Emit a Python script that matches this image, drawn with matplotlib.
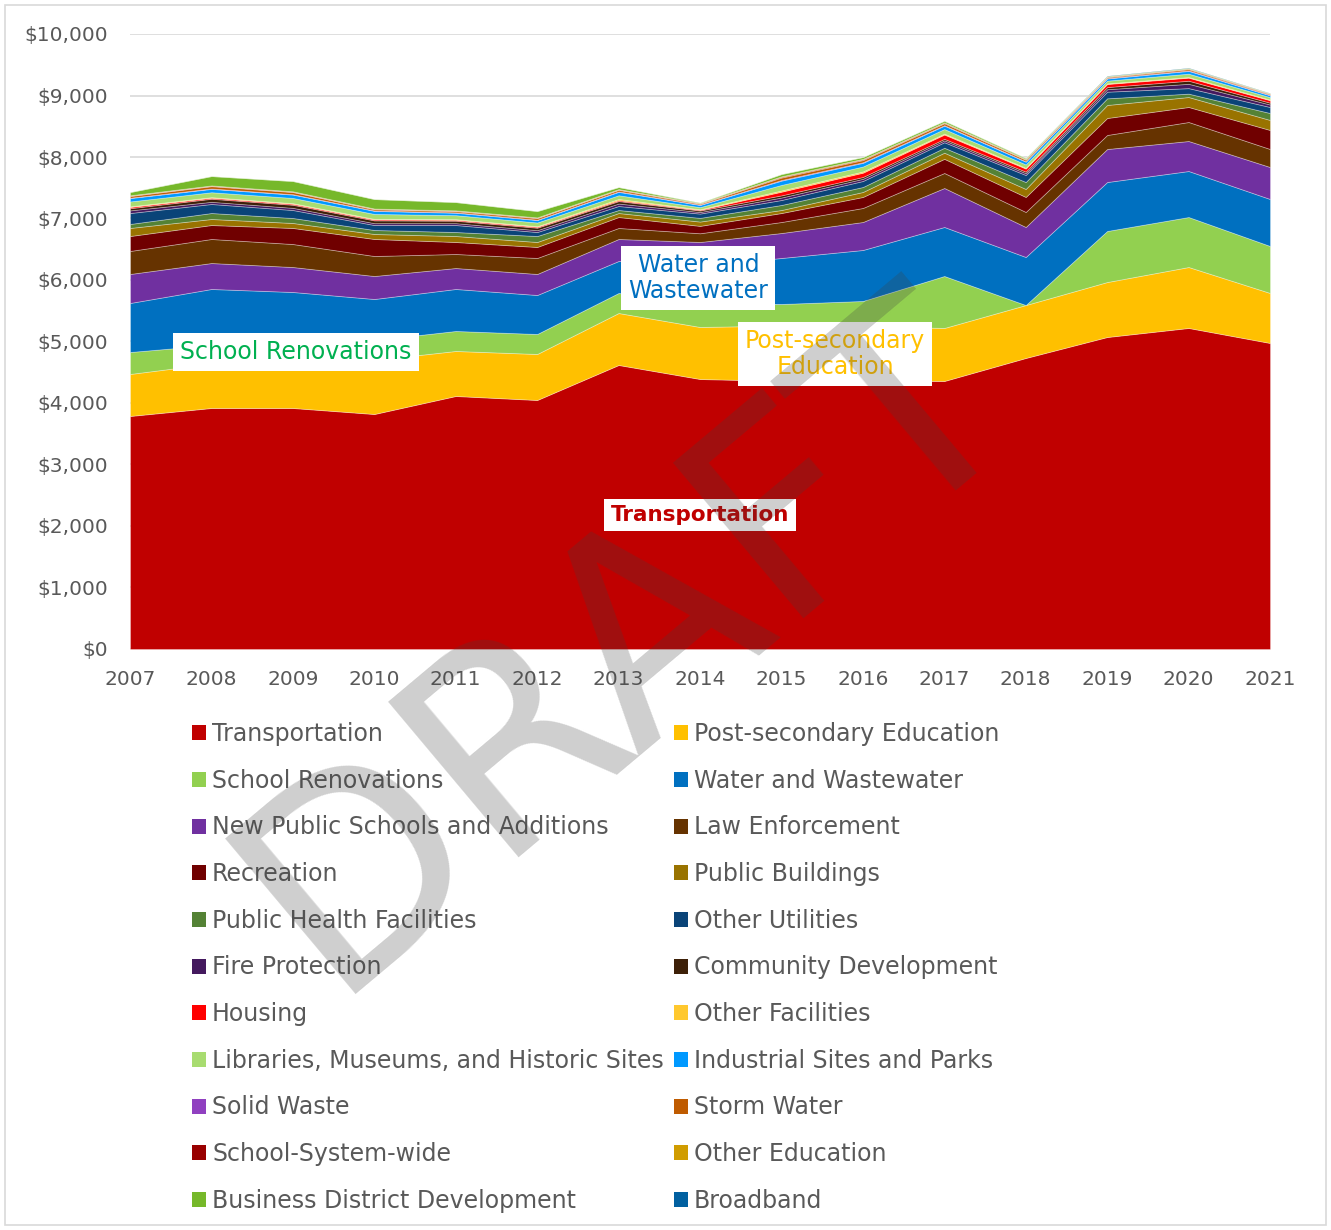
import numpy as np
import matplotlib.pyplot as plt
from matplotlib.patches import Patch, Rectangle

# data ($ millions), stacked bottom -> top
years = list(range(2007, 2022))

transportation = [3789, 3919, 3919, 3821, 4114, 4049, 4618, 4390, 4360, 4370, 4358, 4732, 5073, 5220, 4976]
post_secondary = [683, 721, 721, 879, 732, 748, 845, 846, 900, 880, 862, 861, 894, 991, 813]
school_renov = [357, 303, 336, 324, 325, 325, 326, 390, 350, 409, 845, 0, 830, 813, 764]
water = [797, 911, 829, 667, 683, 634, 520, 602, 748, 829, 797, 781, 796, 748, 764]
new_schools = [472, 422, 406, 374, 341, 342, 358, 390, 406, 455, 634, 488, 537, 488, 520]
law_enf = [374, 391, 374, 325, 228, 260, 179, 142, 179, 228, 244, 244, 228, 309, 293]
recreation = [243, 227, 261, 277, 195, 179, 178, 120, 146, 179, 230, 244, 276, 244, 309]
public_bldg = [131, 98, 81, 81, 97, 81, 65, 70, 49, 81, 100, 130, 212, 162, 163]
public_health = [65, 97, 81, 65, 65, 97, 49, 60, 82, 81, 80, 113, 108, 55, 113]
other_util = [178, 147, 130, 81, 114, 65, 65, 70, 81, 98, 90, 114, 108, 90, 98]
fire = [43, 35, 35, 30, 30, 30, 40, 25, 40, 35, 30, 30, 40, 70, 40]
community = [35, 50, 50, 45, 40, 40, 40, 25, 35, 30, 25, 25, 35, 50, 30]
housing = [20, 16, 16, 15, 15, 15, 15, 10, 60, 70, 70, 50, 50, 50, 40]
other_fac = [10, 10, 10, 10, 10, 10, 20, 10, 20, 20, 15, 12, 10, 10, 10]
libraries = [80, 80, 85, 80, 65, 60, 60, 35, 90, 80, 75, 55, 45, 55, 40]
industrial = [55, 55, 55, 50, 40, 40, 55, 35, 70, 60, 55, 45, 35, 45, 30]
solid_waste = [6, 6, 6, 6, 6, 6, 8, 5, 10, 10, 8, 6, 6, 8, 6]
storm_water = [27, 38, 35, 20, 20, 25, 25, 15, 40, 35, 30, 25, 15, 20, 12]
school_sys = [6, 6, 6, 6, 6, 6, 6, 5, 10, 10, 8, 6, 6, 6, 6]
other_edu = [6, 6, 6, 6, 6, 6, 6, 5, 10, 10, 8, 6, 6, 6, 6]
business = [54, 153, 168, 155, 136, 104, 34, 10, 38, 30, 26, 17, 8, 8, 6]
broadband = [0, 0, 0, 0, 0, 0, 0, 0, 0, 0, 0, 0, 4, 4, 2]

labels = ["Transportation", "Post-secondary Education", "School Renovations",
          "Water and Wastewater", "New Public Schools and Additions", "Law Enforcement",
          "Recreation", "Public Buildings", "Public Health Facilities", "Other Utilities",
          "Fire Protection", "Community Development", "Housing", "Other Facilities",
          "Libraries, Museums, and Historic Sites", "Industrial Sites and Parks",
          "Solid Waste", "Storm Water", "School-System-wide", "Other Education",
          "Business District Development", "Broadband"]
series = [transportation, post_secondary, school_renov, water, new_schools, law_enf,
          recreation, public_bldg, public_health, other_util, fire, community, housing,
          other_fac, libraries, industrial, solid_waste, storm_water, school_sys,
          other_edu, business, broadband]
colors = ["#C00000", "#FFC000", "#92D050", "#0070C0", "#7030A0", "#663300",
          "#700000", "#997300", "#548235", "#0A4478", "#44195E", "#3D2008",
          "#FF0000", "#FFC82E", "#A8DC70", "#0099FF", "#9040C0", "#BF5B00",
          "#990000", "#D09C00", "#76B82A", "#0160A0"]

fig = plt.figure(figsize=(13.31, 12.30), dpi=100)
ax = fig.add_axes([130/1331, 1 - 649/1230, 1140/1331, 615/1230])

ax.stackplot(years, *series, colors=colors, labels=labels,
             edgecolor=(1, 1, 1, 0.35), linewidth=0.6, zorder=2)

ax.set_xlim(2007, 2021)
ax.set_ylim(0, 10000)
ax.set_xticks(years)
ax.set_yticks(np.arange(0, 10001, 1000))
ax.yaxis.set_major_formatter(plt.FuncFormatter(lambda v, p: f"${v:,.0f}"))
ax.tick_params(length=0, labelsize=14.5, labelcolor="#595959")
ax.tick_params(axis="y", pad=16)
ax.tick_params(axis="x", pad=15)
ax.grid(axis="y", color="#D9D9D9", linewidth=1.2, zorder=0)
ax.set_axisbelow(True)
for s in ax.spines.values():
    s.set_visible(False)

# in-chart labels
box = dict(boxstyle="square,pad=0.3", facecolor="white", edgecolor="none")
ax.text(2009.04, 4829, "School Renovations", color="#00B050", fontsize=17,
        ha="center", va="center", bbox=box, zorder=5)
ax.text(2013.98, 6033, "Water and\nWastewater", color="#0070C0", fontsize=17,
        ha="center", va="center", bbox=box, zorder=5, linespacing=1.1)
ax.text(2015.66, 4797, "Post-secondary\nEducation", color="#FFC000", fontsize=17,
        ha="center", va="center", bbox=box, zorder=5, linespacing=1.1)
ax.text(2014.0, 2179, "Transportation", color="#C00000", fontsize=15.5,
        fontweight="bold", ha="center", va="center", bbox=box, zorder=5)

# legend: row-major, split in two columns
handles = [Patch(facecolor=c, edgecolor="none") for c in colors]
leg_kw = dict(loc="upper left", frameon=False, fontsize=17, labelcolor="#595959",
              handlelength=0.6, handleheight=0.6, handletextpad=0.25,
              labelspacing=0.96, borderpad=0, borderaxespad=0)
leg1 = fig.legend(handles[0::2], labels[0::2], bbox_to_anchor=(192/1331, 1 - 722/1230), **leg_kw)
leg2 = fig.legend(handles[1::2], labels[1::2], bbox_to_anchor=(674/1331, 1 - 722/1230), **leg_kw)

# DRAFT watermark
fig.text(628/1331, 1 - 642/1230, "DRAFT", fontsize=200, color="#404040", alpha=0.25,
         rotation=40, ha="center", va="center", zorder=20)

# outer border
fig.patches.append(Rectangle((5/1331, 5/1230), 1321/1331, 1220/1230, transform=fig.transFigure,
                             fill=False, edgecolor="#D9D9D9", linewidth=1.2))

fig.savefig("out.png", dpi=100)
